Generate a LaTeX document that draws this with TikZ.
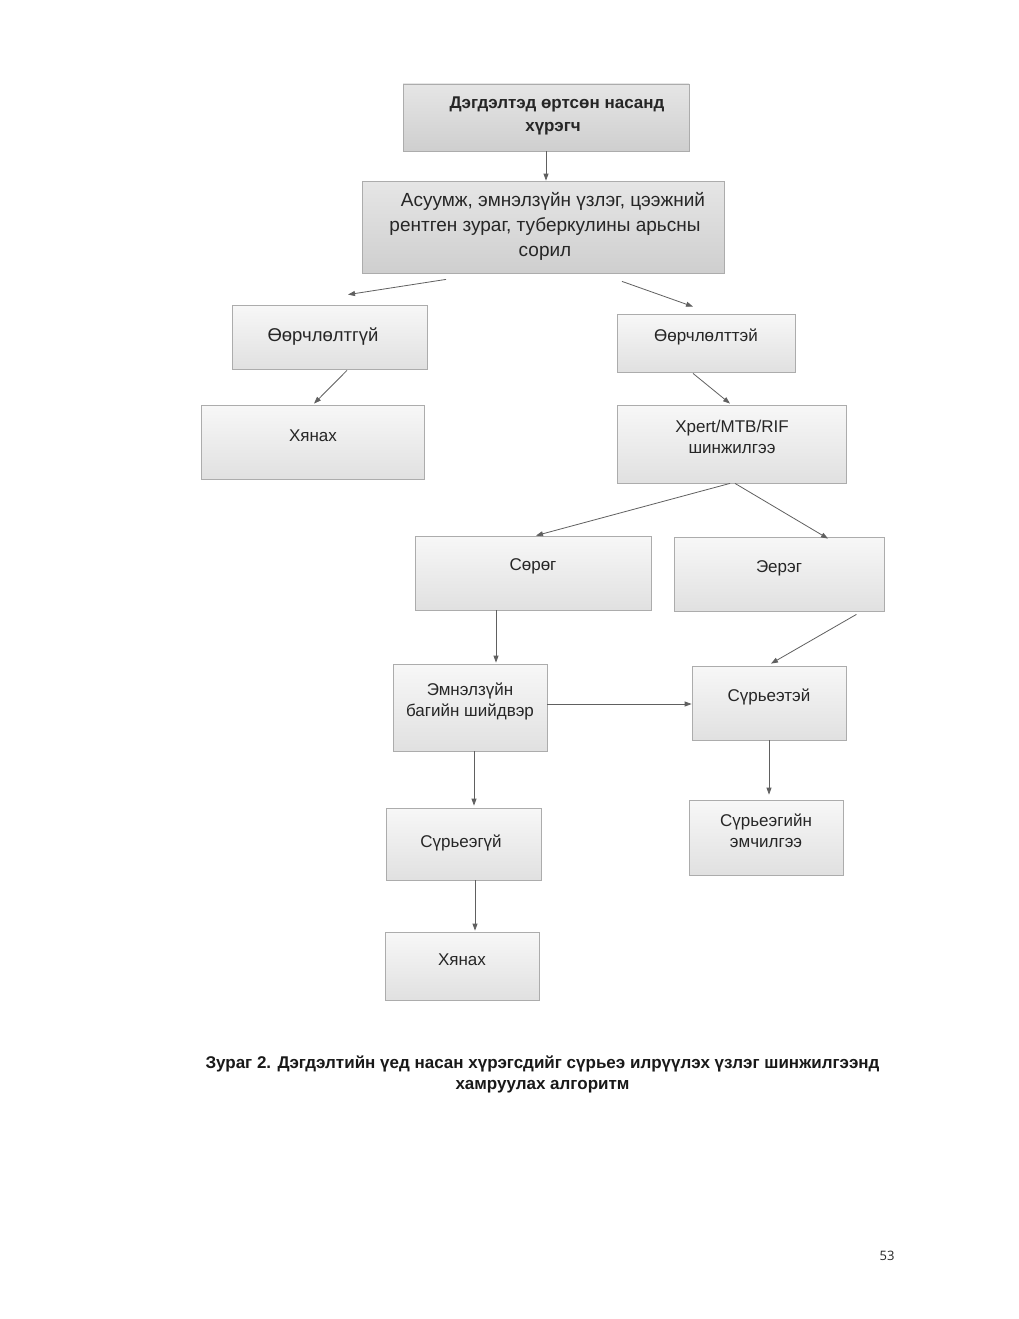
\documentclass[tikz,border=0pt]{standalone}
\usepackage{fontspec}
\setmainfont{Liberation Sans}
\newfontfamily\capfont{Liberation Sans}
\newfontfamily\numfont{Open Sans}
\usetikzlibrary{arrows.meta,calc}
\begin{document}
\begin{tikzpicture}[x=1pt,y=-1pt,
  box/.style={draw=gray!65, line width=0.8pt, top color=gray!6, bottom color=gray!24, inner sep=0pt},
  darkbox/.style={box, top color=gray!20, bottom color=gray!38},
  txt/.style={align=center, text=black!85, font=\fontsize{17}{21}\selectfont, inner sep=0pt},
  conn/.style={draw=gray!75!black, line width=0.8pt, -{Triangle[length=7pt,width=5pt]}}
]
\useasboundingbox[fill=white] (0,0) rectangle (1019,1319);
% boxes
\node[darkbox, minimum width=286pt, minimum height=67pt] (b1) at (546,117.5) {};
\node[darkbox, minimum width=362pt, minimum height=92pt] (b2) at (543,227) {};
\node[box, minimum width=195pt, minimum height=64pt] (b3) at (329.5,337) {};
\node[box, minimum width=178pt, minimum height=58pt] (b4) at (706,343) {};
\node[box, minimum width=223pt, minimum height=74pt] (b5) at (312.5,442) {};
\node[box, minimum width=229pt, minimum height=78pt] (b6) at (731.5,444) {};
\node[box, minimum width=236pt, minimum height=74pt] (b7) at (533,573) {};
\node[box, minimum width=210pt, minimum height=74pt] (b8) at (779,574) {};
\node[box, minimum width=154pt, minimum height=87pt] (b9) at (470,707.5) {};
\node[box, minimum width=154pt, minimum height=74pt] (b10) at (769,703) {};
\node[box, minimum width=155pt, minimum height=72pt] (b11) at (463.5,844) {};
\node[box, minimum width=154pt, minimum height=75pt] (b12) at (766,837.5) {};
\node[box, minimum width=154pt, minimum height=68pt] (b13) at (462,966) {};
% texts
\node[txt, font=\bfseries\fontsize{17}{23}\selectfont] (t1) at (553,116) {\hspace*{8pt}Дэгдэлтэд өртсөн насанд\\хүрэгч};
\node[txt, font=\fontsize{19}{25}\selectfont] (t2) at (545,226) {\hspace*{16pt}Асуумж, эмнэлзүйн үзлэг, цээжний\\рентген зураг, туберкулины арьсны\\сорил};
\node[txt, font=\fontsize{18.5}{22}\selectfont] (t3) at (323,337) {Өөрчлөлтгүй};
\node[txt] (t4) at (706,337) {Өөрчлөлттэй};
\node[txt] (t5) at (313,436) {Хянах};
\node[txt] (t6) at (732,437) {Xpert/MTB/RIF\\шинжилгээ};
\node[txt] (t7) at (533,566) {Сөрөг};
\node[txt] (t8) at (779,568) {Эерэг};
\node[txt] (t9) at (470,701) {Эмнэлзүйн\\багийн шийдвэр};
\node[txt] (t10) at (769,697) {Сүрьеэтэй};
\node[txt] (t11) at (461,843) {Сүрьеэгүй};
\node[txt] (t12) at (766,831) {Сүрьеэгийн\\эмчилгээ};
\node[txt] (t13) at (462,960) {Хянах};
% free connector ends
\coordinate (a1s) at ($(b2.south)+(-97,6)$);
\coordinate (a1e) at ($(b3.north)+(18.5,-10)$);
\coordinate (a2s) at ($(b2.south)+(79,8)$);
\coordinate (a2e) at ($(b4.north)+(-13,-7)$);
\coordinate (a3e) at ($(b10.north)+(2,-2)$);
\coordinate (a3s) at ($(b8.south east)+(-28,3)$);
\coordinate (a4e) at ($(b12.north)+(3,-5)$);
% connectors
\draw[conn] (b1.south) -- (b1.south |- b2.north);
\draw[conn] (a1s) -- (a1e);
\draw[conn] (a2s) -- (a2e);
\draw[conn] ($(b3.south)+(17.5,1)$) -- ($(b5.north)+(1.5,-1)$);
\draw[conn] ($(b4.south)+(-13,1)$) -- ($(b6.north)+(-1.5,-1)$);
\draw[conn] ($(b6.south)+(-1.5,0)$) -- ($(b7.north)+(3,0)$);
\draw[conn] ($(b6.south)+(3.5,0)$) -- ($(b8.north)+(49,2)$);
\draw[conn] ($(b7.south)+(-37,0)$) -- ($(b9.north)+(26,-1)$);
\draw[conn] (a3s) -- (a3e);
\draw[conn] ($(b9.east)+(0,-3.5)$) -- ($(b10.west)+(0,1)$);
\draw[conn] (b10.south) -- (a4e);
\draw[conn] ($(b9.south)+(4,0)$) -- ($(b11.north)+(10.5,-2)$);
\draw[conn] ($(b11.south)+(11.5,0)$) -- ($(b13.north)+(13,-1)$);
% caption
\node[align=center, text=black!90, font=\capfont\bfseries\fontsize{17}{21}\selectfont, inner sep=0pt] (cap) at (542.5,1074) {Зураг 2. Дэгдэлтийн үед насан хүрэгсдийг сүрьеэ илрүүлэх үзлэг шинжилгээнд\\хамруулах алгоритм};
\node[font=\numfont\fontsize{13}{15}\selectfont, text=black!85, inner sep=0pt] (pg) at (887,1256) {53};
\end{tikzpicture}
\end{document}
